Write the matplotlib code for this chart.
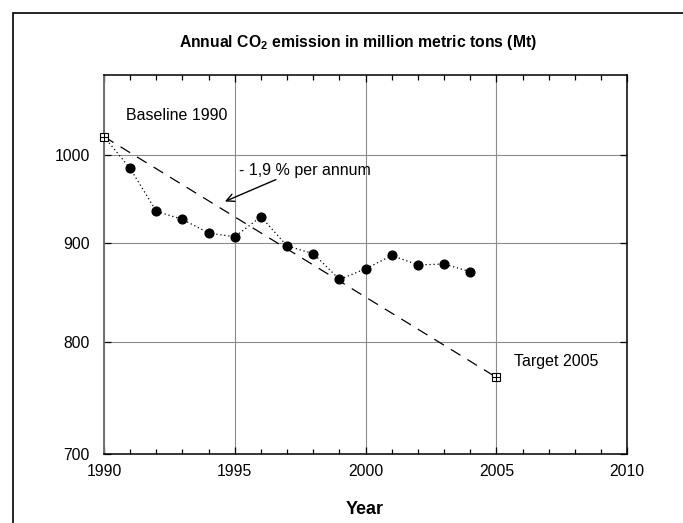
import matplotlib
matplotlib.use("Agg")
import matplotlib.pyplot as plt
from matplotlib.patches import Rectangle
from matplotlib.ticker import FixedLocator, FixedFormatter, NullLocator, MultipleLocator

plt.rcParams['font.family'] = ['Liberation Sans', 'DejaVu Sans']
plt.rcParams['mathtext.fontset'] = 'custom'
plt.rcParams['mathtext.rm'] = 'Liberation Sans'
plt.rcParams['mathtext.bf'] = 'Liberation Sans:bold'

# emissions, Mt
years = [1990, 1991, 1992, 1993, 1994, 1995, 1996, 1997, 1998, 1999,
         2000, 2001, 2002, 2003, 2004]
emission = [1022, 984, 935, 926, 911, 907, 929, 897, 889, 862,
            873, 887, 877, 878, 870]

# reduction path baseline -> target
path_years = [1990, 2005]
path_values = [1022, 767]

y_ticks = [700, 800, 900, 1000]
y_tick_labels = ['700', '800', '900', '1000']
x_ticks = [1990, 1995, 2000, 2005, 2010]

fig = plt.figure(figsize=(6.83, 5.23), dpi=100)
ax = fig.add_axes([104 / 683, 1 - 454 / 523, 523.3 / 683, 379 / 523])

# outer frame (runs off the right and bottom of the picture)
fig.patches.append(Rectangle((12.7 / 683, -0.05), 1.1, 1 - 12.7 / 523 + 0.05,
                             transform=fig.transFigure, fill=False,
                             edgecolor='black', linewidth=1.2))

ax.set_yscale('log')
ax.set_xlim(1990, 2010)
ax.set_ylim(700, 1100)

ax.yaxis.set_major_locator(FixedLocator(y_ticks))
ax.yaxis.set_major_formatter(FixedFormatter(y_tick_labels))
ax.yaxis.set_minor_locator(NullLocator())
ax.xaxis.set_major_locator(FixedLocator(x_ticks))
ax.xaxis.set_minor_locator(MultipleLocator(1))

ax.grid(True, which='major', color='#8c8c8c', linewidth=0.8)
ax.set_axisbelow(True)

ax.tick_params(which='both', direction='in', top=True, right=True,
               labelsize=11.3, color='black')
ax.tick_params(which='major', length=5, width=0.9)
ax.tick_params(which='minor', length=3.5, width=0.9)
ax.tick_params(axis='x', pad=7)
ax.tick_params(axis='y', pad=10)

for side in ['top', 'right', 'bottom']:
    ax.spines[side].set_color('black')
    ax.spines[side].set_linewidth(1.1)
ax.spines['left'].set_color('#707070')
ax.spines['left'].set_linewidth(1.4)

# target path
ax.plot(path_years, path_values, color='black', linewidth=0.9,
        dashes=(9, 6.5), zorder=3)

# actual emissions
ax.plot(years, emission, color='black', linewidth=0.9,
        linestyle=(0, (1, 2.2)), zorder=4)
ax.plot(years[1:], emission[1:], 'o', color='black', markersize=6.3, zorder=5)

# baseline and target markers
for xv, yv in zip(path_years, path_values):
    ax.plot(xv, yv, 's', markersize=5.5, markerfacecolor='white',
            markeredgecolor='black', markeredgewidth=0.8, zorder=6,
            clip_on=False)
    ax.plot(xv, yv, '+', markersize=5.5, color='black',
            markeredgewidth=0.8, zorder=7, clip_on=False)

ax.text(1990.84, 1048, 'Baseline 1990', fontsize=11.5, ha='left', va='center')
ax.text(2005.68, 782, 'Target 2005', fontsize=11.5, ha='left', va='center')
ax.text(1995.16, 982, '- 1,9 % per annum', fontsize=11.5, ha='left', va='center')
ax.annotate('', xy=(1994.62, 946), xytext=(1996.57, 971),
            arrowprops=dict(arrowstyle='->', color='black', lw=1.0,
                            mutation_scale=14, shrinkA=0, shrinkB=0))

fig.text(358.5 / 683, 1 - 43 / 523,
         r'Annual CO$_\mathbf{2}$ emission in million metric tons (Mt)',
         fontsize=11.3, fontweight='bold', ha='center', va='center')
fig.text(364.7 / 683, 1 - 509 / 523, 'Year', fontsize=13,
         fontweight='bold', ha='center', va='center')

fig.savefig('out.png', dpi=100)
